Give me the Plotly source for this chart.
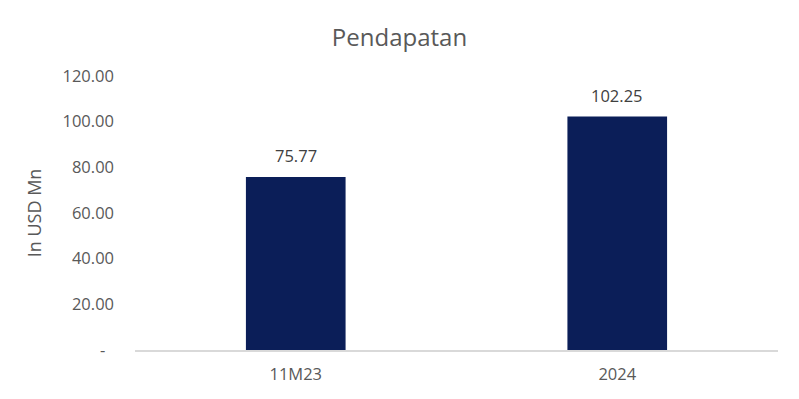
import plotly.graph_objects as go

categories = ["11M23", "2024"]
values = [75.77, 102.25]
tick_vals = [0, 20, 40, 60, 80, 100, 120]
tick_text = ["-\u00a0\u00a0", "20.00", "40.00", "60.00", "80.00", "100.00", "120.00"]

FONT = "Open Sans"
GREY = "#595959"

fig = go.Figure(go.Bar(
    x=categories, y=values,
    marker=dict(color="#0B1E58", line=dict(width=0)),
    hoverinfo="x+y",
))

# value labels placed at each category's index on the category axis
for i, v in enumerate(values):
    fig.add_annotation(x=i, y=v, text=f"{v:.2f}", showarrow=False,
                       yanchor="middle", yshift=21,
                       font=dict(family=FONT, size=16.5, color="#404040"))

fig.update_layout(
    width=799, height=399,
    paper_bgcolor="white", plot_bgcolor="white",
    margin=dict(l=135, r=21, t=76, b=49),
    bargap=0.69,
    showlegend=False,
    title=dict(text="Pendapatan", x=0.5, xanchor="center", y=0.907, yanchor="middle",
               font=dict(family=FONT, size=24, color=GREY)),
    font=dict(family=FONT, color=GREY),
)
fig.update_xaxes(
    type="category", categoryorder="array", categoryarray=categories,
    range=[-0.5, len(categories) - 0.5],
    showline=True, linecolor="#D9D9D9", linewidth=1.5,
    showgrid=False, ticks="", tickfont=dict(family=FONT, size=16.5, color=GREY),
    ticklabelstandoff=8,
)
fig.update_yaxes(
    range=[0, 120], tickvals=tick_vals, ticktext=tick_text,
    showgrid=False, zeroline=False, showline=False, ticks="",
    tickfont=dict(family=FONT, size=16.5, color=GREY),
    ticklabelstandoff=20,
    title=dict(text="In USD Mn", font=dict(family=FONT, size=18, color=GREY), standoff=16),
)

fig.write_html("out.html", config={"displayModeBar": False},
               post_script="document.body.style.margin='0px';")
